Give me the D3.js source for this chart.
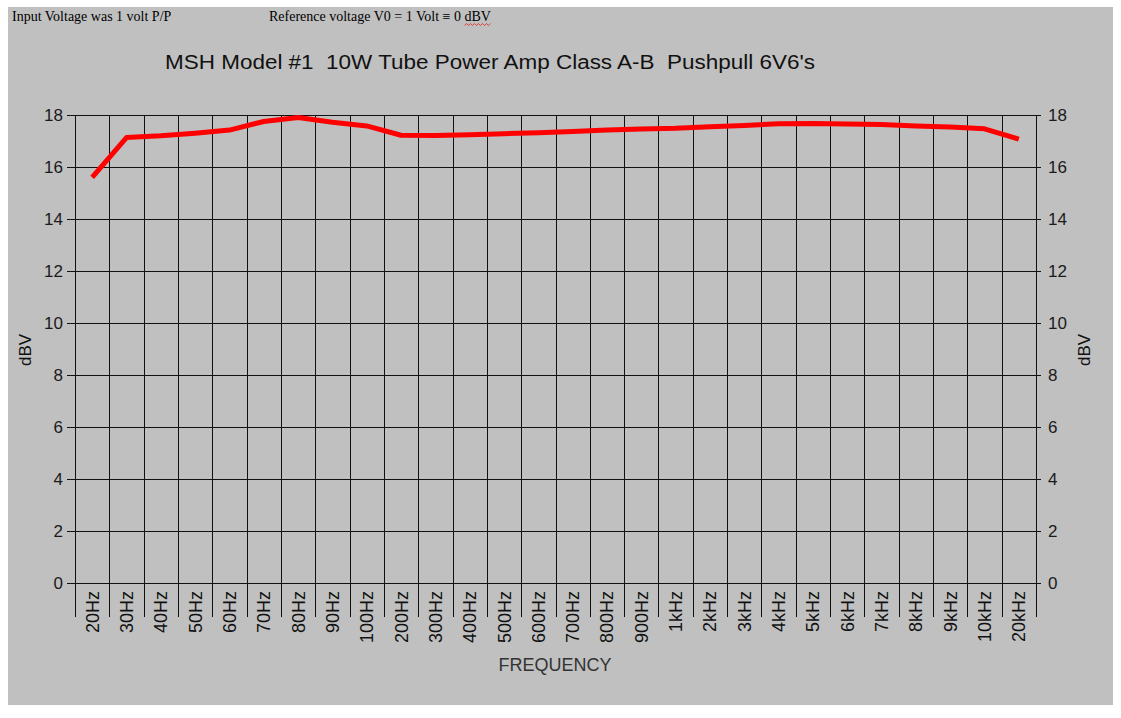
<!DOCTYPE html>
<html>
<head>
<meta charset="utf-8">
<script src="https://cdn.jsdelivr.net/npm/d3@7"></script>
<style>
  html, body { margin: 0; padding: 0; background: #ffffff; }
  svg { display: block; }
</style>
</head>
<body>
<svg id="chart" width="1121" height="718"></svg>
<script>
// ---- data ----
const categories = ["20Hz","30Hz","40Hz","50Hz","60Hz","70Hz","80Hz","90Hz","100Hz",
  "200Hz","300Hz","400Hz","500Hz","600Hz","700Hz","800Hz","900Hz",
  "1kHz","2kHz","3kHz","4kHz","5kHz","6kHz","7kHz","8kHz","9kHz","10kHz","20kHz"];
const dbvValues = [15.6, 17.13, 17.2, 17.3, 17.42, 17.75, 17.9, 17.72, 17.58,
  17.22, 17.21, 17.24, 17.28, 17.32, 17.37, 17.42, 17.46,
  17.49, 17.55, 17.6, 17.66, 17.67, 17.65, 17.63, 17.58, 17.54, 17.47, 17.07];
const yTicks = [0, 2, 4, 6, 8, 10, 12, 14, 16, 18];
const titleText = "MSH Model #1  10W Tube Power Amp Class A-B  Pushpull 6V6's";
const noteLeft = "Input Voltage was 1 volt P/P";
const noteRight = "Reference voltage V0 = 1 Volt \u2261 0 ";
const noteRightUnit = "dBV";

(function () {
const SANS = "Arial, 'Liberation Sans', sans-serif";
const SERIF = "'Times New Roman', 'Liberation Serif', serif";
const svg = d3.select("#chart");
const pLeft = 75, pRight = 1036, pTop = 115, pBottom = 583;

svg.append("rect").attr("x", 8).attr("y", 7).attr("width", 1105).attr("height", 698)
  .attr("fill", "#c0c0c0");

const x = d3.scaleBand().domain(categories).range([pLeft, pRight]).padding(0);
const y = d3.scaleLinear().domain([0, 18]).range([pBottom, pTop]);

// horizontal grid lines (incl. tick marks on both sides)
svg.append("g").selectAll("line").data(yTicks).join("line")
  .attr("x1", pLeft - 8).attr("x2", pRight + 5)
  .attr("y1", d => Math.round(y(d)) + 0.5).attr("y2", d => Math.round(y(d)) + 0.5)
  .attr("stroke", "#111").attr("stroke-width", 1);

// vertical grid lines at category boundaries, extending below axis
const bounds = categories.map(c => x(c)).concat([pRight]);
svg.append("g").selectAll("line").data(bounds).join("line")
  .attr("x1", d => Math.round(d) + 0.5).attr("x2", d => Math.round(d) + 0.5)
  .attr("y1", pTop).attr("y2", pBottom + 34)
  .attr("stroke", "#111").attr("stroke-width", 1);

// left y labels
const axL = d3.axisLeft(y).tickValues(yTicks).tickSize(0).tickPadding(12).tickFormat(d3.format("d"));
const gL = svg.append("g").attr("transform", `translate(${pLeft},0)`).call(axL);
gL.select(".domain").remove();
gL.selectAll("text").style("font-size", "17px").style("fill", "#1a1a1a").style("font-family", SANS);

// right y labels
const axR = d3.axisRight(y).tickValues(yTicks).tickSize(0).tickPadding(12).tickFormat(d3.format("d"));
const gR = svg.append("g").attr("transform", `translate(${pRight},0)`).call(axR);
gR.select(".domain").remove();
gR.selectAll("text").style("font-size", "17px").style("fill", "#1a1a1a").style("font-family", SANS);

// x labels rotated
const axB = d3.axisBottom(x).tickSize(0).tickPadding(0);
const gB = svg.append("g").attr("transform", `translate(0,${pBottom})`).call(axB);
gB.select(".domain").remove();
gB.selectAll("text")
  .style("font-size", "18px").style("fill", "#111").style("font-family", SANS)
  .attr("text-anchor", "end")
  .attr("transform", "rotate(-90)")
  .attr("x", -8).attr("y", 0).attr("dy", "0.36em");

// data line
const line = d3.line()
  .x((d, i) => x(categories[i]) + x.bandwidth() / 2)
  .y(d => y(d))
  .curve(d3.curveLinear);
svg.append("path").datum(dbvValues)
  .attr("d", line).attr("fill", "none")
  .attr("stroke", "#ff0000").attr("stroke-width", 5).attr("stroke-linejoin", "round");

// title
svg.append("text").attr("x", 490).attr("y", 69).attr("text-anchor", "middle")
  .style("font-size", "20px").style("fill", "#111").style("font-family", SANS)
  .style("white-space", "pre").attr("xml:space", "preserve")
  .attr("textLength", 650).attr("lengthAdjust", "spacingAndGlyphs")
  .text(titleText);

// axis titles
svg.append("text").attr("transform", "translate(31,350) rotate(-90)")
  .attr("text-anchor", "middle").style("font-size", "17px").style("fill", "#111")
  .style("font-family", SANS).text("dBV");
svg.append("text").attr("transform", "translate(1090,350) rotate(-90)")
  .attr("text-anchor", "middle").style("font-size", "17px").style("fill", "#111")
  .style("font-family", SANS).text("dBV");
svg.append("text").attr("x", 555).attr("y", 671).attr("text-anchor", "middle")
  .style("font-size", "18px").style("fill", "#333").style("font-family", SANS).text("FREQUENCY");

// notes at top (serif)
svg.append("text").attr("x", 12).attr("y", 21)
  .style("font-family", SERIF).style("font-size", "14px").style("fill", "#000")
  .text(noteLeft);
const nr = svg.append("text").attr("x", 269).attr("y", 21)
  .style("font-family", SERIF).style("font-size", "14px").style("fill", "#000")
  .style("white-space", "pre");
nr.append("tspan").text(noteRight);
const unit = nr.append("tspan").text(noteRightUnit);
// spell-check wavy underline under the unit
const unitNode = unit.node();
const start = unitNode.getStartPositionOfChar(0).x;
const end = unitNode.getEndPositionOfChar(noteRightUnit.length - 1).x;
let wavy = "";
for (let xx = start, k = 0; xx <= end; xx += 2, k++) {
  wavy += (k === 0 ? "M" : "L") + xx + "," + (k % 2 ? 23.5 : 25.5);
}
svg.append("path").attr("d", wavy).attr("fill", "none").attr("stroke", "#e02020").attr("stroke-width", 0.8);
})();
</script>
</body>
</html>
